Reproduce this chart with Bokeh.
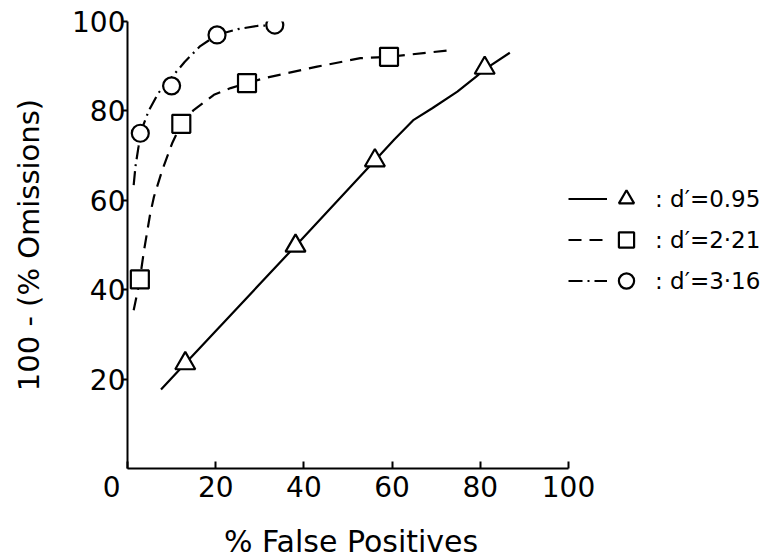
from bokeh.plotting import figure
from bokeh.models import Range1d, Legend, LegendItem, FixedTicker
from bokeh.core.properties import value
from bokeh.embed import file_html
from bokeh.resources import INLINE

FONT = "DejaVu Sans"

# ---- tick values ----
x_ticks = [0, 20, 40, 60, 80, 100]
y_ticks = [20, 40, 60, 80, 100]

# ---- d' = 0.95 (triangles, solid) ----
tri_fp = [13.1, 38.1, 56.1, 81.0]
tri_hit = [23.5, 49.8, 68.9, 89.6]
tri_curve_fp = [7.6, 13.1, 38.1, 56.1, 60.5, 64.9, 69.1, 74.8, 79.0, 81.0, 86.7]
tri_curve_hit = [17.7, 23.5, 49.8, 68.9, 73.6, 78.0, 80.6, 84.3, 87.6, 89.3, 93.0]

# ---- d' = 2.21 (squares, dashed) ----
sq_fp = [2.8, 12.2, 27.1, 59.3]
sq_hit = [42.3, 77.1, 86.2, 92.1]
sq_curve_fp = [1.4, 2.2, 2.8, 3.7, 5.1, 6.0, 7.9, 10.1, 12.2, 15.0, 19.6, 23.4, 27.1, 30.9, 43.0, 52.8, 59.3, 72.5]
sq_curve_hit = [35.4, 39.2, 42.3, 48.5, 56.7, 60.8, 66.8, 72.7, 77.1, 80.2, 83.6, 85.1, 86.2, 87.3, 89.9, 91.8, 92.1, 93.5]

# ---- d' = 3.16 (circles, dash-dot) ----
ci_fp = [2.9, 10.0, 20.3, 33.4]
ci_hit = [75.0, 85.6, 97.0, 99.2]
ci_curve_fp = [1.4, 1.8, 2.5, 2.9, 4.8, 7.0, 10.0, 13.0, 16.5, 20.3, 25.0, 29.4, 33.4]
ci_curve_hit = [63.4, 67.5, 72.0, 75.0, 80.0, 84.0, 87.5, 91.0, 94.5, 97.0, 98.3, 99.0, 99.2]

labels = [": d\u2032=0.95", ": d\u2032=2\u00b721", ": d\u2032=3\u00b716"]

# frame: 441 px for 0..100, extra room on the right holds the key
AXIS_W = 441
FRAME_W = 634
X_END = 100 * FRAME_W / AXIS_W

p = figure(frame_width=FRAME_W, frame_height=447,
           x_range=Range1d(0, X_END), y_range=Range1d(0, 100),
           output_backend="svg", toolbar_location=None,
           min_border_left=127, min_border_top=21, min_border_bottom=88,
           min_border_right=0)
p.outline_line_color = None
p.grid.visible = False
p.background_fill_color = "white"
p.border_fill_color = "white"

LW = 2.2
l_tri = p.line(tri_curve_fp, tri_curve_hit, line_color="black", line_width=LW)
l_sq = p.line(sq_curve_fp, sq_curve_hit, line_color="black", line_width=LW, line_dash="13 8")
l_ci = p.line(ci_curve_fp, ci_curve_hit, line_color="black", line_width=LW, line_dash="14 5 2 5")

m_tri = p.scatter(tri_fp, tri_hit, marker="triangle", size=20, fill_color="white",
                  line_color="black", line_width=2.2)
m_sq = p.scatter(sq_fp, sq_hit, marker="square", size=18, fill_color="white",
                 line_color="black", line_width=2.2)
m_ci = p.scatter(ci_fp, ci_hit, marker="circle", size=17, fill_color="white",
                 line_color="black", line_width=2.2)

# axes
xa = p.xaxis[0]
ya = p.yaxis[0]
for ax in (xa, ya):
    ax.axis_line_width = 2
    ax.axis_line_color = "black"
    ax.major_tick_line_width = 2
    ax.major_tick_line_color = "black"
    ax.minor_tick_line_color = None
    ax.major_label_text_font = FONT
    ax.major_label_text_color = "black"
    ax.axis_label_text_font = FONT
    ax.axis_label_text_font_style = "normal"
    ax.axis_label_text_color = "black"

xa.ticker = FixedTicker(ticks=x_ticks)
xa.bounds = (0, 100)
# the shared origin "0" sits to the left of the corner
xa.major_label_overrides = {0: "0\u2007\u2002"}
xa.major_tick_in = 7
xa.major_tick_out = 0
xa.major_label_standoff = 2
xa.major_label_text_font_size = "28px"
# the frame also holds the key; trailing figure spaces centre the title under 0..100
xa.axis_label = "% False Positives" + "\u2007" * 9 + "\u2002"
xa.axis_label_text_font_size = "30px"
xa.axis_label_standoff = 17

ya.ticker = FixedTicker(ticks=y_ticks)
ya.major_tick_in = 0
ya.major_tick_out = 5
ya.major_label_standoff = -3
ya.major_label_text_font_size = "28px"
ya.axis_label = "100 - (% Omissions)"
ya.axis_label_text_font_size = "29px"
ya.axis_label_standoff = 23

# key: line samples, then marker + label
legA = Legend(items=[LegendItem(label=value(""), renderers=[r]) for r in (l_tri, l_sq, l_ci)],
              glyph_width=39, glyph_height=41, label_standoff=0, label_width=0,
              padding=0, margin=0, spacing=0, border_line_color=None,
              background_fill_alpha=0, location=(AXIS_W, 167))
legB = Legend(items=[LegendItem(label=value(t), renderers=[r]) for t, r in zip(labels, (m_tri, m_sq, m_ci))],
              glyph_width=38, glyph_height=41, label_standoff=10, label_width=0,
              padding=0, margin=0, spacing=0, border_line_color=None,
              background_fill_alpha=0, location=(AXIS_W + 39, 167),
              label_text_font=FONT, label_text_font_size="23px", label_text_color="black")
p.add_layout(legA)
p.add_layout(legB)

open("out.html", "w").write(file_html(p, INLINE))
